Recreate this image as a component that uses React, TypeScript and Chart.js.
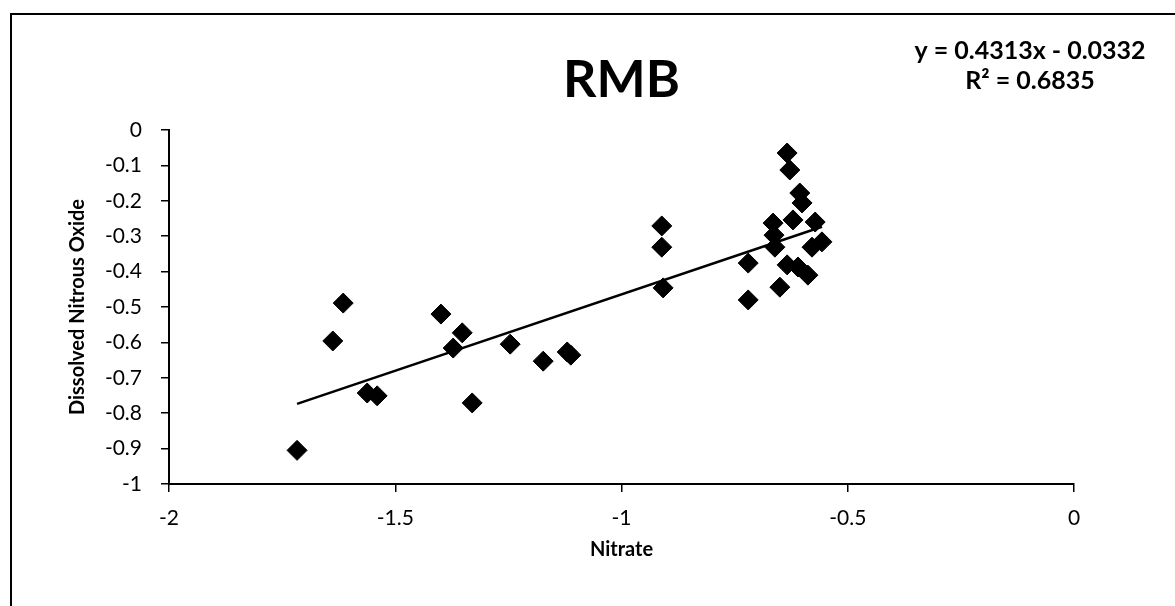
import React, { useEffect, useRef } from "react";
import { Chart, registerables } from "chart.js";

Chart.register(...registerables);

// ---- data ----
const nitrate = [
  -0.634, -0.628, -0.606, -0.601, -0.621, -0.665, -0.572, -0.663, -0.661, -0.579,
  -0.557, -0.720, -0.634, -0.610, -0.588, -0.650, -0.720, -0.911, -0.911, -0.908,
  -1.615, -1.638, -1.399, -1.352, -1.372, -1.246, -1.173, -1.120, -1.112, -1.562,
  -1.540, -1.330, -1.717,
];
const dissolvedN2O = [
  -0.065, -0.113, -0.178, -0.206, -0.254, -0.263, -0.260, -0.297, -0.331, -0.331,
  -0.316, -0.376, -0.381, -0.387, -0.410, -0.444, -0.480, -0.271, -0.331, -0.446,
  -0.489, -0.596, -0.520, -0.573, -0.616, -0.605, -0.653, -0.627, -0.636, -0.743,
  -0.751, -0.771, -0.905,
];
const trendSlope = 0.4313;
const trendIntercept = -0.0332;
const xTickValues = [-2, -1.5, -1, -0.5, 0];
const yTickValues = [0, -0.1, -0.2, -0.3, -0.4, -0.5, -0.6, -0.7, -0.8, -0.9, -1];
const chartTitle = "RMB";
const equationLines = ["y = 0.4313x - 0.0332", "R\u00B2 = 0.6835"];
const xAxisTitle = "Nitrate";
const yAxisTitle = "Dissolved Nitrous Oxide";

const FONT = "Lato, 'Open Sans', 'DejaVu Sans', sans-serif";

export default function App() {
  const canvasRef = useRef<HTMLCanvasElement | null>(null);

  useEffect(() => {
    const canvas = canvasRef.current;
    if (!canvas) return;

    const points = nitrate.map((x, i) => ({ x, y: dissolvedN2O[i] }));
    const xMin = Math.min(...nitrate);
    const xMax = Math.max(...nitrate);
    const trend = [
      { x: xMin, y: trendSlope * xMin + trendIntercept },
      { x: xMax, y: trendSlope * xMax + trendIntercept },
    ];

    const textPlugin = {
      id: "textPlugin",
      afterDraw(chart: any) {
        const ctx = chart.ctx;
        const area = chart.chartArea;
        ctx.save();
        ctx.fillStyle = "#000";
        ctx.textAlign = "center";
        ctx.textBaseline = "middle";
        ctx.font = `bold 52px ${FONT}`;
        ctx.fillText(chartTitle, (area.left + area.right) / 2, 80);
        ctx.font = `bold 25px ${FONT}`;
        ctx.fillText(equationLines[0], 1030, 51);
        ctx.fillText(equationLines[1], 1030, 81);
        ctx.restore();
      },
    };

    const chart = new Chart(canvas, {
      type: "scatter",
      data: {
        datasets: [
          {
            label: "Linear trend",
            type: "line",
            data: trend,
            borderColor: "#000",
            borderWidth: 2.5,
            pointRadius: 0,
            fill: false,
          } as any,
          {
            label: "RMB",
            data: points,
            pointStyle: "rectRot",
            pointRadius: 10,
            pointHoverRadius: 10,
            backgroundColor: "#000",
            borderColor: "#000",
            borderWidth: 1,
          },
        ],
      },
      options: {
        animation: false,
        responsive: false,
        maintainAspectRatio: false,
        events: [],
        layout: { padding: { left: 0, top: 130, right: 101, bottom: 0 } },
        plugins: {
          legend: { display: false },
          tooltip: { enabled: false },
          title: { display: false },
        },
        scales: {
          x: {
            type: "linear",
            position: "bottom",
            min: -2,
            max: 0,
            afterFit: (s: any) => {
              s.height = 122;
            },
            afterBuildTicks: (s: any) => {
              s.ticks = xTickValues.map((v) => ({ value: v }));
            },
            ticks: {
              color: "#000",
              font: { family: FONT, size: 21 },
              padding: 14,
              maxRotation: 0,
              callback: (v: any) => String(Number(Number(v).toFixed(1))),
            },
            grid: {
              display: true,
              drawOnChartArea: false,
              drawTicks: true,
              tickLength: 8,
              color: "#000",
              lineWidth: 1.5,
            },
            border: { display: true, color: "#000", width: 2 },
            title: {
              display: true,
              text: xAxisTitle,
              color: "#000",
              font: { family: FONT, size: 20, weight: "bold" },
              padding: { top: 0, bottom: 44 },
            },
          },
          y: {
            type: "linear",
            min: -1,
            max: 0,
            afterFit: (s: any) => {
              s.width = 169;
            },
            afterBuildTicks: (s: any) => {
              s.ticks = yTickValues.map((v) => ({ value: v }));
            },
            ticks: {
              color: "#000",
              font: { family: FONT, size: 21 },
              padding: 19,
              callback: (v: any) => String(Number(Number(v).toFixed(1))),
            },
            grid: {
              display: true,
              drawOnChartArea: false,
              drawTicks: true,
              tickLength: 8,
              color: "#000",
              lineWidth: 1.5,
            },
            border: { display: true, color: "#000", width: 2 },
            title: {
              display: true,
              text: yAxisTitle,
              color: "#000",
              font: { family: FONT, size: 20, weight: "bold" },
              padding: { top: 66, bottom: 0 },
            },
          },
        },
      },
      plugins: [textPlugin],
    });

    return () => {
      chart.destroy();
    };
  }, []);

  return (
    <div
      style={{
        position: "fixed",
        left: 0,
        top: 0,
        width: 1175,
        height: 606,
        overflow: "hidden",
        background: "#fff",
      }}
    >
      <div
        style={{
          position: "absolute",
          left: 10,
          top: 13,
          width: 1400,
          height: 800,
          borderLeft: "2px solid #000",
          borderTop: "2px solid #000",
          boxSizing: "border-box",
        }}
      />
      <canvas
        ref={canvasRef}
        width={1175}
        height={606}
        style={{ position: "absolute", left: 0, top: 0, width: 1175, height: 606 }}
      />
    </div>
  );
}
